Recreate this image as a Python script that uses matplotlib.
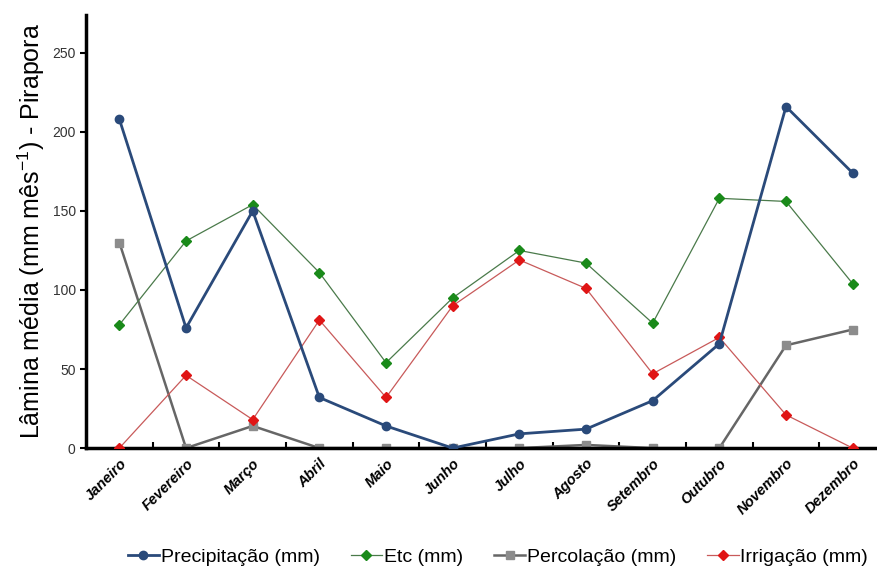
import matplotlib.pyplot as plt
from matplotlib.ticker import FixedLocator

plt.rcParams['font.family'] = ['Liberation Sans', 'DejaVu Sans']

meses = ['Janeiro', 'Fevereiro', 'Março', 'Abril', 'Maio', 'Junho', 'Julho',
         'Agosto', 'Setembro', 'Outubro', 'Novembro', 'Dezembro']

precipitacao = [208, 76, 150, 32, 14, 0, 9, 12, 30, 66, 216, 174]
etc = [78, 131, 154, 111, 54, 95, 125, 117, 79, 158, 156, 104]
percolacao = [130, 0, 14, 0, 0, 0, 0, 2, 0, 0, 65, 75]
irrigacao = [0, 46, 18, 81, 32, 90, 119, 101, 47, 70, 21, 0]

fig = plt.figure(figsize=(8.78, 5.73), dpi=100)
ax = fig.add_axes([0.098, 0.218, 0.902, 0.756])

x = list(range(len(meses)))

ax.plot(x, precipitacao, color='#2a4a7a', linewidth=2.0, marker='o', markersize=6,
        label='Precipitação (mm)', zorder=4)
ax.plot(x, etc, color='#4a7a4a', linewidth=0.9, marker='D', markersize=5,
        markerfacecolor='#1a8a1a', markeredgecolor='#1a8a1a', label='Etc (mm)', zorder=3)
ax.plot(x, percolacao, color='#666666', linewidth=1.8, marker='s', markersize=6,
        markerfacecolor='#8c8c8c', markeredgecolor='#8c8c8c', label='Percolação (mm)', zorder=2)
ax.plot(x, irrigacao, color='#c85a5a', linewidth=0.9, marker='D', markersize=5,
        markerfacecolor='#e01515', markeredgecolor='#e01515', label='Irrigação (mm)', zorder=3)

ax.set_xlim(-0.5, 11.38)
ax.set_ylim(0, 274)
ax.set_yticks([0, 50, 100, 150, 200, 250])
ax.tick_params(axis='y', labelsize=10, labelcolor='#333333', length=4, width=1.5, direction='out')

ax.set_xticks(x)
ax.set_xticklabels(meses, rotation=45, ha='right', rotation_mode='anchor',
                   fontsize=10.5, fontweight='bold', fontstyle='italic')
ax.tick_params(axis='x', length=0, pad=6)
ax.xaxis.set_minor_locator(FixedLocator([i + 0.5 for i in range(11)]))
ax.tick_params(axis='x', which='minor', length=4, width=1.5, direction='in')

for s in ['top', 'right']:
    ax.spines[s].set_visible(False)
ax.spines['left'].set_linewidth(2.5)
ax.spines['bottom'].set_linewidth(2.5)

ax.set_ylabel('Lâmina média (mm mês$^{\\mathregular{-1}}$) - Pirapora', fontsize=18,
              labelpad=4)

ax.legend(loc='upper center', bbox_to_anchor=(0.52, -0.19), ncol=4, frameon=False,
          fontsize=14, handlelength=1.6, handletextpad=0.1, columnspacing=1.6)

fig.savefig('out.png', dpi=100)
